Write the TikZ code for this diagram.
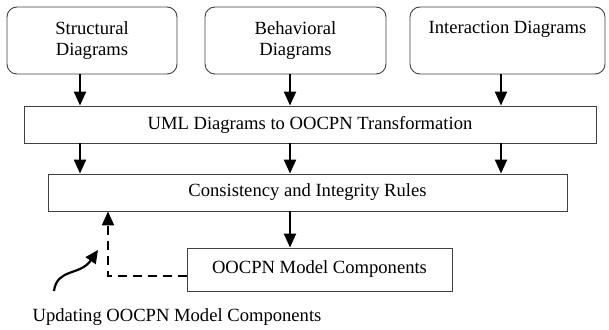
\documentclass[tikz,border=0pt]{standalone}
\usepackage{fontspec}
\setmainfont{Liberation Serif}
\usetikzlibrary{arrows.meta}
\begin{document}
\begin{tikzpicture}[x=1pt,y=-1pt,
  box/.style={draw=black!75,line width=0.9pt,inner sep=0pt,align=center,
    font=\fontsize{18.6}{21}\selectfont},
  rbox/.style={box,rounded corners=10pt},
  arr/.style={line width=2.2pt,-{Triangle[length=14pt,width=12pt]}},
  dasharr/.style={line width=2.2pt,dash pattern=on 9pt off 6pt,-{Triangle[length=14pt,width=12pt]}},
  txt/.style={font=\fontsize{18.6}{21}\selectfont,inner sep=0pt}]
\useasboundingbox (0,0) rectangle (609,329);
\node[rbox,minimum width=170pt,minimum height=67pt] (b1) at (92,40.5) {Structural\\Diagrams};
\node[rbox,minimum width=181pt,minimum height=67pt] (b2) at (295.5,40.5) {Behavioral\\Diagrams};
\node[rbox,minimum width=195pt,minimum height=67pt] (b3) at (507.5,40.5) {Interaction Diagrams\\\strut};
\node[box,minimum width=572pt,minimum height=37pt] (uml) at (310,124.5) {UML Diagrams to OOCPN Transformation};
\node[box,minimum width=519pt,minimum height=37pt] (cons) at (307.5,192.5) {Consistency and Integrity Rules};
\node[box,minimum width=265pt,minimum height=43pt] (oo) at (319.5,269.5) {OOCPN Model Components};
\node[txt] (lab) at (177,317) {Updating OOCPN Model Components};
\coordinate (c1) at (80,0);
\coordinate (c2) at (290,0);
\coordinate (c3) at (501,0);
\draw[arr] (b1.south -| c1) -- (uml.north -| c1);
\draw[arr] (b2.south -| c2) -- (uml.north -| c2);
\draw[arr] (b3.south -| c3) -- (uml.north -| c3);
\draw[arr] (uml.south -| c1) -- (cons.north -| c1);
\draw[arr] (uml.south -| c2) -- (cons.north -| c2);
\draw[arr] (uml.south -| c3) -- (cons.north -| c3);
\draw[arr] (cons.south -| c2) -- (oo.north -| c2);
\coordinate (dk) at (108,276);
\draw[dasharr] (oo.west |- dk) -- (dk) -- (dk |- cons.south);
\coordinate (cs) at (54,291);
\coordinate (ce) at (98,250);
\draw[line width=2.2pt,-{Triangle[length=13pt,width=12pt]}] (cs) .. controls (57,268) and (80,276) .. (ce);
\end{tikzpicture}
\end{document}
